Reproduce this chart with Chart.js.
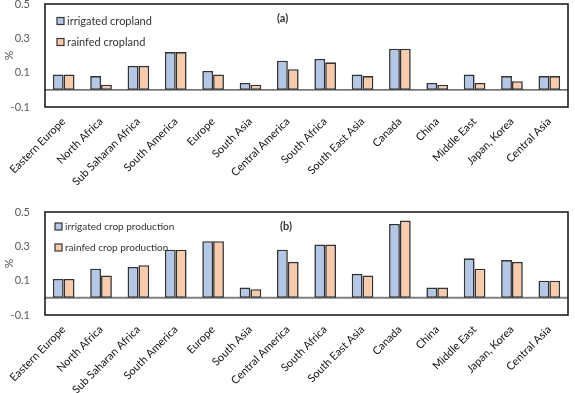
<!DOCTYPE html>
<html><head><meta charset="utf-8">
<script src="https://cdn.jsdelivr.net/npm/chart.js@4/dist/chart.umd.min.js"></script>
<style>
html,body{margin:0;padding:0;background:#fff;}
#wrap{position:relative;width:575px;height:393px;overflow:hidden;background:#fff;}
.box{position:absolute;left:0;width:575px;height:185px;}
</style></head><body>
<div id="wrap">
<div class="box" style="top:0"><canvas id="ca"></canvas></div>
<div class="box" style="top:208px"><canvas id="cb"></canvas></div>
</div>
<script>
const categories = ["Eastern Europe","North Africa","Sub Saharan Africa","South America","Europe","South Asia","Central America","South Africa","South East Asia","Canada","China","Middle East","Japan, Korea","Central Asia"];
const irrigatedCropland = [0.09,0.08,0.14,0.22,0.11,0.04,0.17,0.18,0.09,0.24,0.04,0.09,0.08,0.08];
const rainfedCropland   = [0.09,0.03,0.14,0.22,0.09,0.03,0.12,0.16,0.08,0.24,0.03,0.04,0.05,0.08];
const irrigatedProduction = [0.11,0.17,0.18,0.28,0.33,0.06,0.28,0.31,0.14,0.43,0.06,0.23,0.22,0.10];
const rainfedProduction   = [0.11,0.13,0.19,0.28,0.33,0.05,0.21,0.31,0.13,0.45,0.06,0.17,0.21,0.10];
const yTicks = [-0.1, 0.1, 0.3, 0.5];
const seriesNamesA = ["irrigated cropland","rainfed cropland"];
const seriesNamesB = ["irrigated crop production","rainfed crop production"];
const panelTitles = ["(a)","(b)"];

const FONT = 'Lato, "Open Sans", sans-serif';
const BLUE = '#B4C7E7', ORANGE = '#F8CBAD', EDGE = '#333333';

const framePlugin = {
  id: 'frame',
  beforeDatasetsDraw(chart, args, opts) {
    const {ctx, chartArea: a} = chart;
    const y0 = chart.scales.y.getPixelForValue(0);
    ctx.save();
    ctx.strokeStyle = opts.zeroColor; ctx.lineWidth = opts.zeroWidth;
    ctx.beginPath(); ctx.moveTo(a.left, y0); ctx.lineTo(a.right, y0); ctx.stroke();
    ctx.restore();
  },
  afterDraw(chart, args, opts) {
    const {ctx, chartArea: a} = chart;
    ctx.save();
    ctx.strokeStyle = '#1f1f1f'; ctx.lineWidth = 1.6;
    ctx.strokeRect(a.left, a.top, a.right - a.left, a.bottom - a.top);
    ctx.font = opts.legendFont + 'px ' + FONT; ctx.textBaseline = 'middle'; ctx.textAlign = 'left';
    chart.data.datasets.forEach((ds, i) => {
      const y = opts.legendY[i];
      ctx.fillStyle = ds.backgroundColor;
      ctx.fillRect(opts.legendX, y - 3.5, 7, 7);
      ctx.strokeStyle = EDGE; ctx.lineWidth = 1.2;
      ctx.strokeRect(opts.legendX, y - 3.5, 7, 7);
      ctx.fillStyle = '#333333';
      ctx.fillText(ds.label, opts.legendX + 10, y);
    });
    ctx.font = 'bold 11px ' + FONT;
    ctx.fillStyle = '#333333';
    ctx.fillText(opts.title, opts.titleX, opts.titleY);
    ctx.restore();
  }
};

function makeChart(id, names, s1, s2, plug) {
  return new Chart(document.getElementById(id), {
    type: 'bar',
    data: {
      labels: categories,
      datasets: [
        {label: names[0], data: s1, backgroundColor: BLUE, borderColor: EDGE, borderWidth: 1.6, borderSkipped: false},
        {label: names[1], data: s2, backgroundColor: ORANGE, borderColor: EDGE, borderWidth: 1.6, borderSkipped: false}
      ]
    },
    options: {
      responsive: true, maintainAspectRatio: false, animation: false, devicePixelRatio: 1,
      layout: {padding: {left: 0, right: 7, top: 4, bottom: 0}},
      datasets: {bar: {categoryPercentage: 0.58, barPercentage: 1.0}},
      plugins: {legend: {display: false}, tooltip: {enabled: false}, frame: plug},
      scales: {
        x: {
          grid: {display: false, drawTicks: false},
          border: {display: false},
          ticks: {autoSkip: false, minRotation: 45, maxRotation: 45, padding: 8,
                  color: '#111111', font: {family: FONT, size: 11}},
          afterFit(s) { s.height = 78; }
        },
        y: {
          min: -0.1, max: 0.5,
          grid: {display: false, drawTicks: true, tickLength: 15},
          border: {display: false},
          afterBuildTicks(s) { s.ticks = yTicks.map(v => ({value: v})); },
          ticks: {padding: 0, color: '#595959', font: {family: FONT, size: 11, lineHeight: 0.6},
                  callback: v => String(v)},
          title: {display: true, text: '%', color: '#595959', font: {family: FONT, size: 12}, padding: {top: 2, bottom: 0}},
          afterFit(s) { s.width = 45; }
        }
      }
    },
    plugins: [framePlugin]
  });
}

makeChart('ca', seriesNamesA, irrigatedCropland, rainfedCropland,
  {legendX: 57, legendY: [21, 42], legendFont: 11, title: panelTitles[0], titleX: 277, titleY: 18, zeroColor: '#404040', zeroWidth: 1.2});
makeChart('cb', seriesNamesB, irrigatedProduction, rainfedProduction,
  {legendX: 55, legendY: [18.5, 39.5], legendFont: 10, title: panelTitles[1], titleX: 280, titleY: 18, zeroColor: '#808080', zeroWidth: 2});
</script>
</body></html>
